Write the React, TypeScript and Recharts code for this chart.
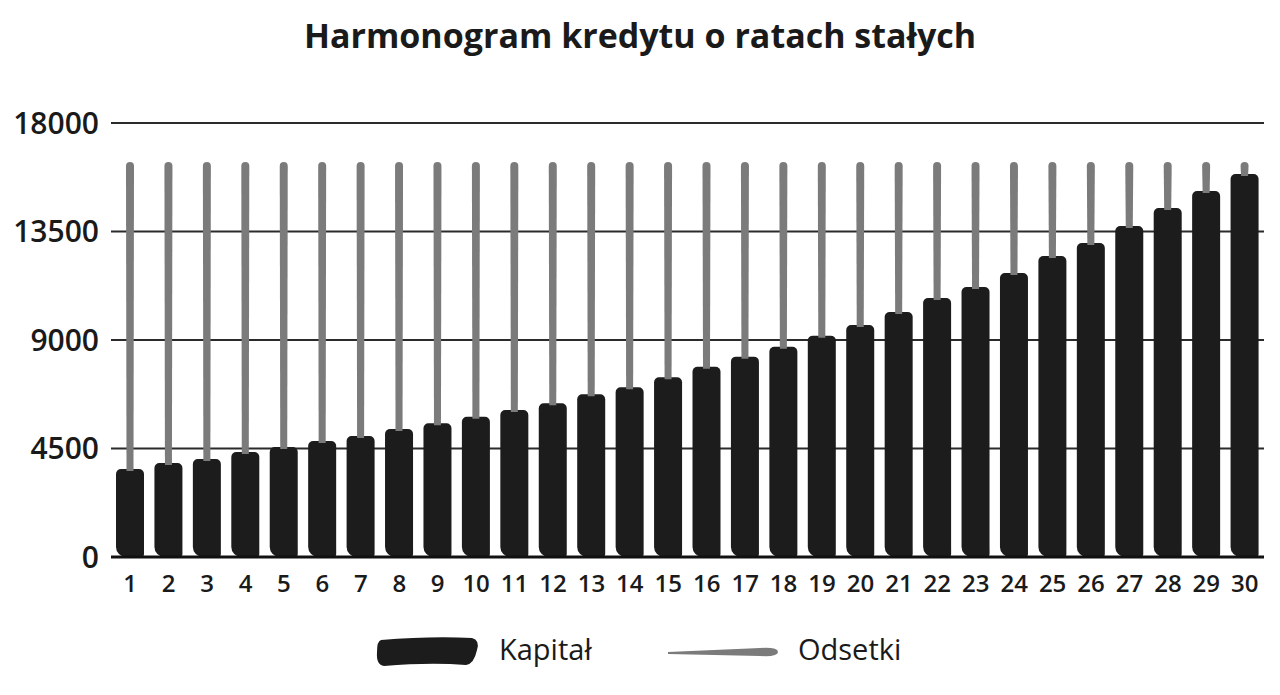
import { Bar, BarChart, CartesianGrid, XAxis, YAxis } from "recharts";

const months = Array.from({ length: 30 }, (_, i) => String(i + 1));

const kapital = [
  3650, 3900, 4065, 4355, 4560, 4810, 5020, 5310, 5545, 5820, 6100, 6375, 6750, 7040, 7455,
  7890, 8310, 8720, 9180, 9620, 10160, 10740, 11200, 11780, 12480, 13020, 13730, 14475, 15180,
  15885,
];

const odsetki = [
  12730, 12480, 12315, 12025, 11820, 11570, 11360, 11070, 10835, 10560, 10280, 10005, 9630, 9340,
  8925, 8490, 8070, 7660, 7200, 6760, 6220, 5640, 5180, 4600, 3900, 3360, 2650, 1905, 1200, 495,
];

const yTicks = [0, 4500, 9000, 13500, 18000];

const FONT = '"Open Sans", sans-serif';
const COLORS = {
  kapital: "#1c1c1c",
  odsetki: "#7b7b7b",
  grid: "#2b2b2b",
  text: "#1a1a1a",
};

const chartData = months.map((name, i) => ({
  name,
  Kapitał: kapital[i],
  Odsetki: odsetki[i],
}));

// narrow grey stem with a rounded tip, centred on the stacked bar
function InterestStem(props: any) {
  const { x, y, width, height } = props;
  if (!height || height <= 0) return null;
  const cx = x + width / 2;
  const r = 4;
  const bottom = y + height + 2;
  const d = `M${cx - r + 0.5},${bottom} L${cx - r},${y + r} A${r},${r} 0 0 1 ${cx + r},${y + r} L${cx + r - 0.5},${bottom} Z`;
  return <path d={d} fill={COLORS.odsetki} />;
}

function LegendRow() {
  return (
    <div
      style={{
        position: "absolute",
        top: 632,
        left: 0,
        width: 1280,
        height: 40,
        fontFamily: FONT,
        color: COLORS.text,
      }}
    >
      <svg width={1280} height={40} style={{ position: "absolute", left: 0, top: 0 }}>
        <path
          d="M381,8 Q430,4 472,6 Q480,8 477,18 Q474,32 466,33 Q430,30 384,34 Q376,33 377,20 Q377,9 381,8 Z"
          fill={COLORS.kapital}
        />
        <path
          d="M668,20 L760,16 Q778,15 778,20 Q778,25 760,24 L668,22 Z"
          fill={COLORS.odsetki}
        />
      </svg>
      <span style={{ position: "absolute", left: 499, top: -3, fontSize: 29 }}>Kapitał</span>
      <span style={{ position: "absolute", left: 798, top: -3, fontSize: 29 }}>Odsetki</span>
    </div>
  );
}

export default function App() {
  return (
    <div
      style={{
        position: "absolute",
        top: 0,
        left: 0,
        width: 1280,
        height: 695,
        background: "#ffffff",
        fontFamily: FONT,
      }}
    >
      <div
        style={{
          position: "absolute",
          top: 12,
          left: 0,
          width: 1280,
          textAlign: "center",
          fontSize: 34,
          fontWeight: 700,
          color: COLORS.text,
        }}
      >
        Harmonogram kredytu o ratach stałych
      </div>

      <div style={{ position: "absolute", top: 0, left: 0 }}>
        <BarChart
          width={1280}
          height={600}
          data={chartData}
          margin={{ top: 123, right: 16, left: 0, bottom: 0 }}
          barSize={28}
        >
          <CartesianGrid vertical={false} stroke={COLORS.grid} strokeWidth={2} />
          <XAxis
            dataKey="name"
            height={43}
            tickLine={false}
            tickSize={0}
            tickMargin={18}
            axisLine={{ stroke: "#111", strokeWidth: 3 }}
            interval={0}
            tick={{ fontSize: 24, fill: COLORS.text, fontWeight: 600, fontFamily: FONT }}
          />
          <YAxis
            width={111}
            domain={[0, 18000]}
            ticks={yTicks}
            tickLine={false}
            axisLine={false}
            tickSize={0}
            tickMargin={12}
            tick={{ fontSize: 30, fill: COLORS.text, fontWeight: 600, fontFamily: FONT }}
          />
          <Bar
            dataKey="Kapitał"
            stackId="a"
            fill={COLORS.kapital}
            radius={[5, 5, 3, 10]}
            isAnimationActive={false}
          />
          <Bar
            dataKey="Odsetki"
            stackId="a"
            fill={COLORS.odsetki}
            shape={<InterestStem />}
            isAnimationActive={false}
          />
        </BarChart>
      </div>

      <LegendRow />
    </div>
  );
}
